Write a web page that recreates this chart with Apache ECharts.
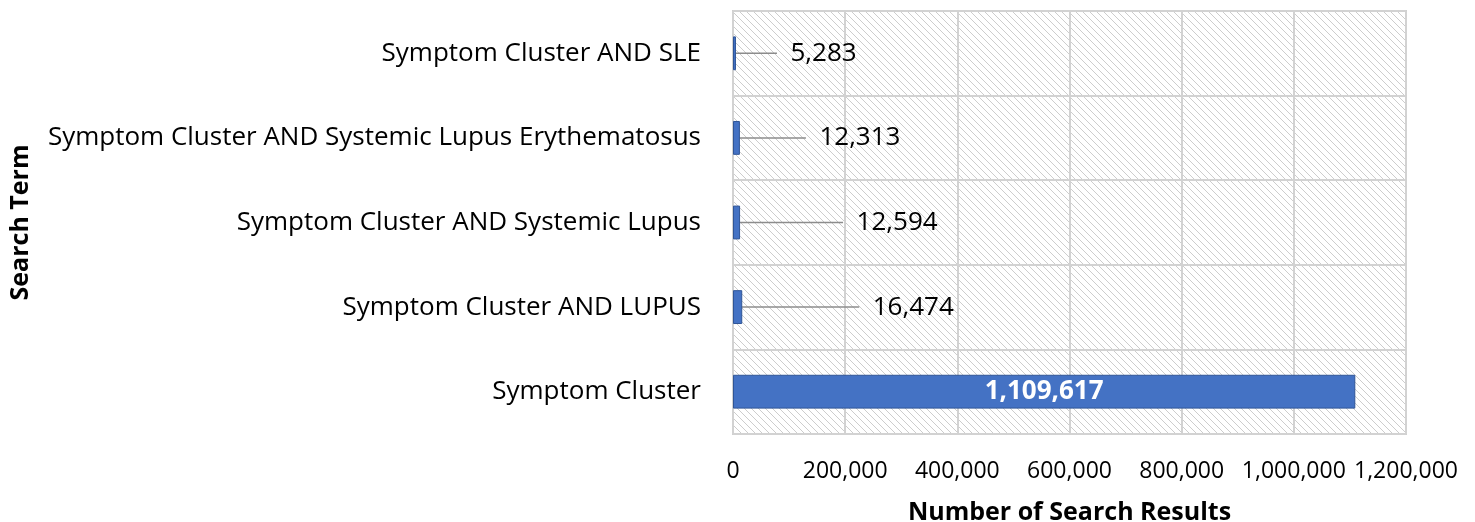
<!DOCTYPE html>
<html>
<head>
<meta charset="utf-8">
<script src="https://cdn.jsdelivr.net/npm/echarts@6/dist/echarts.min.js"></script>
<style>
  html, body { margin: 0; padding: 0; background: #fff; }
  #chart { width: 1475px; height: 522px; }
</style>
</head>
<body>
<div id="chart"></div>
<script>
// bottom to top, as on the chart
const categories = [
  "Symptom Cluster",
  "Symptom Cluster AND LUPUS",
  "Symptom Cluster AND Systemic Lupus",
  "Symptom Cluster AND Systemic Lupus Erythematosus",
  "Symptom Cluster AND SLE"
];
const results = [1109617, 16474, 12594, 12313, 5283];
const xTicks = [0, 200000, 400000, 600000, 800000, 1000000, 1200000];

// how far each outside label is pushed right (leader line length)
const labelShift = [0, 112, 98, 61, 36];

// diagonal hatch for the plot background
const hatch = document.createElement("canvas");
hatch.width = 7;
hatch.height = 7;
const hc = hatch.getContext("2d");
hc.fillStyle = "#ffffff";
hc.fillRect(0, 0, 7, 7);
hc.strokeStyle = "#cdcdcd";
hc.lineWidth = 1;
hc.beginPath();
hc.moveTo(-1, -1); hc.lineTo(8, 8);
hc.moveTo(-8, -1); hc.lineTo(1, 8);
hc.moveTo(6, -1); hc.lineTo(15, 8);
hc.stroke();

const fmt = (v) => v.toLocaleString("en-US");
const font = "'Open Sans', sans-serif";

const chart = echarts.init(document.getElementById("chart"));
chart.setOption({
  animation: false,
  textStyle: { fontFamily: font },
  grid: {
    left: 733, right: 69, top: 11, bottom: 88,
    outerBoundsMode: "none",
    containLabel: false,
    show: true,
    backgroundColor: { image: hatch, repeat: "repeat" },
    borderColor: "#cfcfcf",
    borderWidth: 2
  },
  xAxis: {
    type: "value",
    min: xTicks[0],
    max: xTicks[xTicks.length - 1],
    interval: 200000,
    name: "Number of Search Results",
    nameLocation: "middle",
    nameGap: 66,
    nameTextStyle: { fontSize: 25, fontWeight: "bold", color: "#000", fontFamily: font },
    axisLine: { show: false },
    axisTick: { show: false },
    axisLabel: { fontSize: 23, color: "#000", margin: 26, formatter: fmt },
    splitLine: { lineStyle: { color: "#d2d2d2", width: 2 } }
  },
  yAxis: {
    type: "category",
    data: categories,
    name: "Search Term",
    nameLocation: "middle",
    nameGap: 700,
    nameRotate: 90,
    nameTextStyle: { fontSize: 25, fontWeight: "bold", color: "#000", fontFamily: font },
    axisLine: { show: false },
    axisTick: { show: false },
    axisLabel: { fontSize: 26, color: "#000", margin: 32 },
    splitLine: { show: true, lineStyle: { color: "#d2d2d2", width: 2 } }
  },
  series: [{
    type: "bar",
    data: results.map((v, i) => ({
      value: v,
      label: i === 0
        ? { position: "inside", color: "#fff", fontWeight: "bold", fontSize: 26 }
        : { position: "right", color: "#000", fontSize: 26 }
    })),
    barCategoryGap: "60%",
    itemStyle: { color: "#4472c4", borderColor: "#2f5597", borderWidth: 1 },
    label: {
      show: true,
      fontFamily: font,
      // two spaces in front leave a gap between leader line and number
      formatter: (p) => (p.dataIndex === 0 ? "" : "  ") + fmt(p.value)
    },
    labelLine: { show: true, lineStyle: { color: "#8c8c8c", width: 1.5 } },
    labelLayout: (p) => ({ dx: labelShift[p.dataIndex] })
  }]
});
</script>
</body>
</html>
